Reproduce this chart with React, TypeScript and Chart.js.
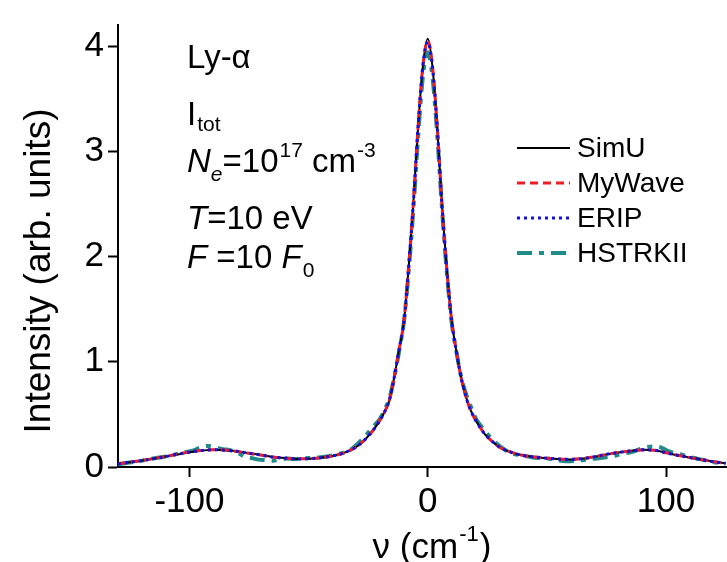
import React, { useEffect, useRef } from 'react';
import { Chart, registerables } from 'chart.js';

Chart.register(...registerables);

// ---------- data ----------
const nuGrid = [-130, -125, -120, -115, -110, -105, -100, -95, -90, -85, -80, -75, -70, -65, -60, -55, -50, -45, -40, -35, -30, -27, -24, -21, -18, -16, -14, -12, -10, -8, -6, -4, -2, 0, 2, 4, 6, 8, 10, 12, 14, 16, 18, 21, 24, 27, 30, 35, 40, 45, 50, 55, 60, 65, 70, 75, 80, 85, 90, 95, 100, 105, 110, 115, 120, 125];

const simU = [0.03, 0.045, 0.06, 0.08, 0.1, 0.12, 0.14, 0.155, 0.165, 0.16, 0.15, 0.13, 0.115, 0.095, 0.085, 0.077, 0.078, 0.088, 0.105, 0.135, 0.19, 0.245, 0.32, 0.41, 0.53, 0.64, 0.86, 1.12, 1.38, 1.9, 2.52, 3.25, 3.82, 4.07, 3.8, 3.22, 2.48, 1.88, 1.4, 1.1, 0.85, 0.67, 0.54, 0.41, 0.31, 0.245, 0.19, 0.14, 0.11, 0.095, 0.083, 0.075, 0.072, 0.08, 0.098, 0.12, 0.138, 0.152, 0.163, 0.16, 0.135, 0.11, 0.09, 0.07, 0.05, 0.035];

const myWave = [0.03, 0.046, 0.062, 0.081, 0.1, 0.122, 0.142, 0.156, 0.164, 0.161, 0.148, 0.13, 0.113, 0.096, 0.084, 0.078, 0.079, 0.087, 0.106, 0.134, 0.19, 0.247, 0.318, 0.412, 0.528, 0.645, 0.858, 1.118, 1.385, 1.9, 2.515, 3.245, 3.815, 4.05, 3.805, 3.225, 2.485, 1.885, 1.398, 1.102, 0.852, 0.672, 0.538, 0.412, 0.312, 0.244, 0.19, 0.141, 0.11, 0.094, 0.084, 0.076, 0.073, 0.081, 0.097, 0.119, 0.139, 0.153, 0.162, 0.159, 0.136, 0.111, 0.089, 0.07, 0.051, 0.036];

const erip = [0.029, 0.045, 0.061, 0.079, 0.099, 0.121, 0.141, 0.156, 0.165, 0.16, 0.149, 0.131, 0.114, 0.095, 0.085, 0.077, 0.078, 0.088, 0.105, 0.135, 0.191, 0.246, 0.319, 0.41, 0.53, 0.642, 0.86, 1.12, 1.38, 1.9, 2.52, 3.25, 3.82, 4.04, 3.8, 3.22, 2.48, 1.88, 1.4, 1.1, 0.85, 0.67, 0.54, 0.41, 0.311, 0.245, 0.19, 0.14, 0.11, 0.095, 0.083, 0.075, 0.072, 0.08, 0.098, 0.12, 0.138, 0.152, 0.163, 0.16, 0.135, 0.11, 0.09, 0.07, 0.05, 0.035];

const hsNu = [-130, -126, -122, -118, -114, -110, -106, -102, -98, -95, -92, -89, -86, -83, -80, -77, -74, -71, -68, -65, -62, -59, -56, -53, -50, -47, -44, -41, -38, -35, -32, -29, -26, -23, -20, -18, -16, -14, -12, -10, -8, -6, -4, -2, 0, 2, 4, 6, 8, 10, 12, 14, 16, 18, 20, 23, 26, 29, 32, 35, 38, 41, 44, 47, 50, 53, 56, 59, 62, 65, 68, 71, 74, 77, 80, 83, 86, 89, 92, 95, 98, 101, 104, 107, 110, 113, 116, 119, 122, 125];

const hstrkii = [0.025, 0.04, 0.05, 0.07, 0.085, 0.1, 0.12, 0.14, 0.16, 0.19, 0.2, 0.185, 0.17, 0.16, 0.14, 0.1, 0.085, 0.07, 0.065, 0.06, 0.07, 0.08, 0.075, 0.08, 0.085, 0.09, 0.095, 0.105, 0.12, 0.14, 0.17, 0.23, 0.3, 0.38, 0.46, 0.55, 0.66, 0.86, 1.1, 1.38, 1.86, 2.46, 3.15, 3.72, 3.94, 3.7, 3.15, 2.45, 1.85, 1.38, 1.1, 0.86, 0.7, 0.58, 0.47, 0.37, 0.29, 0.22, 0.17, 0.13, 0.115, 0.105, 0.09, 0.085, 0.08, 0.07, 0.06, 0.055, 0.06, 0.065, 0.075, 0.08, 0.09, 0.1, 0.115, 0.13, 0.145, 0.17, 0.19, 0.195, 0.185, 0.15, 0.13, 0.115, 0.095, 0.08, 0.065, 0.05, 0.04, 0.03];

const seriesNames = ['SimU', 'MyWave', 'ERIP', 'HSTRKII'];
const xTicks = [-100, 0, 100];
const yTicks = [0, 1, 2, 3, 4];
const xRange = [-130, 125.6];
const yRange = [0, 4.2];

// ---------- styles ----------
const FONT = '"Liberation Sans", Arial, sans-serif';
const TEAL = '#228b8a';

type Run = { t: string; size: number; italic?: boolean; dy?: number; gap?: number };

function drawRuns(ctx: CanvasRenderingContext2D, x: number, y: number, runs: Run[]) {
  let cx = x;
  ctx.textBaseline = 'alphabetic';
  ctx.textAlign = 'left';
  for (const r of runs) {
    ctx.font = `${r.italic ? 'italic ' : ''}${r.size}px ${FONT}`;
    cx += r.gap || 0;
    ctx.fillText(r.t, cx, y + (r.dy || 0));
    cx += ctx.measureText(r.t).width;
  }
}

function widthOfRuns(ctx: CanvasRenderingContext2D, runs: Run[]) {
  let w = 0;
  for (const r of runs) {
    ctx.font = `${r.italic ? 'italic ' : ''}${r.size}px ${FONT}`;
    w += (r.gap || 0) + ctx.measureText(r.t).width;
  }
  return w;
}

const overlayPlugin = {
  id: 'overlay',
  afterDraw(chart: any) {
    const ctx: CanvasRenderingContext2D = chart.ctx;
    ctx.save();
    ctx.fillStyle = '#000';

    // annotation block
    const ax = 187;
    const big = 33;
    const sm = 21;
    drawRuns(ctx, ax, 68, [{ t: 'Ly-\u03B1', size: big }]);
    drawRuns(ctx, ax, 125, [{ t: 'I', size: big }, { t: 'tot', size: sm, dy: 6, gap: 1 }]);
    drawRuns(ctx, ax, 172, [
      { t: 'N', size: big, italic: true },
      { t: 'e', size: sm, italic: true, dy: 9 },
      { t: '=10', size: big },
      { t: '17', size: sm, dy: -15, gap: 1 },
      { t: ' cm', size: big },
      { t: '-3', size: sm, dy: -15, gap: 1 },
    ]);
    drawRuns(ctx, ax, 229, [{ t: 'T', size: big, italic: true }, { t: '=10 eV', size: big }]);
    drawRuns(ctx, ax, 268, [
      { t: 'F', size: big, italic: true },
      { t: ' =10 ', size: big },
      { t: 'F', size: big, italic: true },
      { t: '0', size: sm, dy: 9, gap: 1 },
    ]);

    // legend
    const rows = [148, 183, 218, 253];
    const ds = chart.data.datasets;
    for (let i = 0; i < ds.length; i++) {
      const d = ds[i];
      const y = rows[i];
      ctx.save();
      ctx.strokeStyle = d.borderColor;
      ctx.lineWidth = d.borderWidth;
      ctx.setLineDash(d.borderDash || []);
      ctx.beginPath();
      ctx.moveTo(517, y);
      ctx.lineTo(570, y);
      ctx.stroke();
      ctx.restore();
      ctx.font = `28px ${FONT}`;
      ctx.textBaseline = 'middle';
      ctx.textAlign = 'left';
      ctx.fillStyle = '#000';
      ctx.fillText(d.label, 577, y + 1);
    }

    // y axis title
    ctx.save();
    ctx.translate(50, 271);
    ctx.rotate(-Math.PI / 2);
    ctx.font = `37px ${FONT}`;
    ctx.textAlign = 'center';
    ctx.textBaseline = 'alphabetic';
    ctx.fillText('Intensity (arb. units)', 0, 0);
    ctx.restore();

    // x axis title
    const xr: Run[] = [
      { t: '\u03BD (cm', size: 35 },
      { t: '-1', size: 22, dy: -17, gap: 1 },
      { t: ')', size: 35, gap: 1 },
    ];
    const w = widthOfRuns(ctx, xr);
    ctx.fillStyle = '#000';
    drawRuns(ctx, 432 - w / 2, 558, xr);

    ctx.restore();
  },
};

export default function App() {
  const ref = useRef<HTMLCanvasElement | null>(null);

  useEffect(() => {
    if (!ref.current) return;
    const toPts = (xs: number[], ys: number[]) => xs.map((x, i) => ({ x, y: ys[i] }));
    const common = {
      pointRadius: 0,
      fill: false,
      cubicInterpolationMode: 'monotone' as const,
    };
    const chart = new Chart(ref.current, {
      type: 'line',
      data: {
        datasets: [
          { ...common, label: seriesNames[0], data: toPts(nuGrid, simU), borderColor: '#000000', borderWidth: 2, borderDash: [], order: 2 },
          { ...common, label: seriesNames[1], data: toPts(nuGrid, myWave), borderColor: '#ee1c24', borderWidth: 3, borderDash: [8, 5], order: 1 },
          { ...common, label: seriesNames[2], data: toPts(nuGrid, erip), borderColor: '#1010e0', borderWidth: 3, borderDash: [3, 4], order: 0 },
          { ...common, label: seriesNames[3], data: toPts(hsNu, hstrkii), borderColor: TEAL, borderWidth: 4, borderDash: [15, 7, 5, 7], order: 3 },
        ],
      },
      options: {
        animation: false,
        responsive: false,
        devicePixelRatio: 1,
        layout: { padding: { top: 12, left: 0, right: 0, bottom: 0 } },
        plugins: { legend: { display: false }, tooltip: { enabled: false } },
        scales: {
          x: {
            type: 'linear',
            min: xRange[0],
            max: xRange[1],
            afterBuildTicks: (s: any) => { s.ticks = xTicks.map((v) => ({ value: v })); },
            afterFit: (s: any) => { s.height = 95; },
            grid: { drawOnChartArea: false, drawTicks: true, tickLength: 10, tickColor: '#000', tickWidth: 2 },
            border: { display: true, color: '#000', width: 2 },
            ticks: { color: '#000', font: { family: FONT, size: 35 }, padding: 4, autoSkip: false, maxRotation: 0, callback: (v: any) => String(v) },
          },
          y: {
            type: 'linear',
            min: yRange[0],
            max: yRange[1],
            afterBuildTicks: (s: any) => { s.ticks = yTicks.map((v) => ({ value: v })); },
            afterFit: (s: any) => { s.width = 118; },
            grid: { drawOnChartArea: false, drawTicks: true, tickLength: 10, tickColor: '#000', tickWidth: 2 },
            border: { display: true, color: '#000', width: 2 },
            ticks: { color: '#000', font: { family: FONT, size: 35 }, padding: 4, callback: (v: any) => String(v) },
          },
        },
      },
      plugins: [overlayPlugin],
    } as any);
    return () => chart.destroy();
  }, []);

  return (
    <div style={{ position: 'fixed', left: 0, top: 0, width: 727, height: 562, background: '#fff' }}>
      <canvas ref={ref} width={727} height={562} style={{ display: 'block' }} />
    </div>
  );
}
